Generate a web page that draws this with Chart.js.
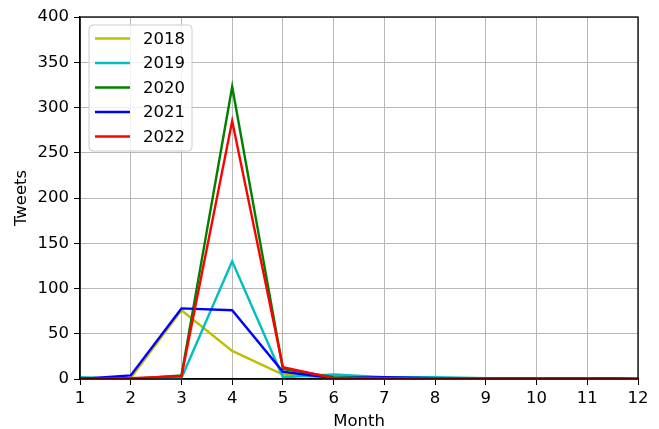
<!DOCTYPE html>
<html><head><meta charset="utf-8">
<script src="https://cdn.jsdelivr.net/npm/chart.js@4/dist/chart.umd.min.js"></script>
<style>html,body{margin:0;padding:0;background:#fff}#wrap{width:659px;height:429px}</style>
</head><body><div id="wrap"><canvas id="c" width="659" height="429"></canvas></div>
<script>
const months = [1,2,3,4,5,6,7,8,9,10,11,12];
const years = ["2018","2019","2020","2021","2022"];
const tweets2018 = [1,1,76,31,5,1,1,1,1,1,1,0];
const tweets2019 = [2,0,1,130,2,5,2,2,1,1,1,0];
const tweets2020 = [1,0,4,323,11,2,1,1,1,1,1,0];
const tweets2021 = [0,4,78,76,8,1,2,1,1,1,1,0];
const tweets2022 = [0,1,3,285,13,1,1,1,1,1,1,0];
const yTicks = [0,50,100,150,200,250,300,350,400];
const colors = ["#bfbf00","#00bfbf","#008000","#0000ff","#ff0000"];
const series = [tweets2018,tweets2019,tweets2020,tweets2021,tweets2022];

const FONT = "'DejaVu Sans', sans-serif";
const FS = 16.5;
const datasets = series.map((vals,i)=>({
  label: years[i],
  data: months.map((m,j)=>({x:m,y:vals[j]})),
  borderColor: colors[i], backgroundColor: colors[i],
  borderWidth: 2.4, pointRadius: 0, tension: 0, fill:false,
  order: series.length-1-i
}));

const frame = {
  id:'frame',
  afterDraw(chart){
    const {ctx, chartArea:a} = chart;
    ctx.save();
    ctx.strokeStyle = '#000'; ctx.lineWidth = 1.3;
    ctx.strokeRect(a.left, a.top, a.right-a.left, a.bottom-a.top);
    // legend
    const x0 = a.left+9, y0 = a.top+8, w = 103, h = 126, r = 4;
    ctx.fillStyle = 'rgba(255,255,255,0.8)';
    ctx.strokeStyle = '#cccccc'; ctx.lineWidth = 1;
    ctx.beginPath();
    ctx.moveTo(x0+r,y0); ctx.lineTo(x0+w-r,y0); ctx.quadraticCurveTo(x0+w,y0,x0+w,y0+r);
    ctx.lineTo(x0+w,y0+h-r); ctx.quadraticCurveTo(x0+w,y0+h,x0+w-r,y0+h);
    ctx.lineTo(x0+r,y0+h); ctx.quadraticCurveTo(x0,y0+h,x0,y0+h-r);
    ctx.lineTo(x0,y0+r); ctx.quadraticCurveTo(x0,y0,x0+r,y0); ctx.closePath();
    ctx.fill(); ctx.stroke();
    ctx.font = FS + 'px ' + FONT; ctx.textBaseline = 'middle'; ctx.textAlign='left';
    years.forEach((yr,i)=>{
      const yy = y0 + 13.5 + i*24.5;
      ctx.strokeStyle = colors[i]; ctx.lineWidth = 2.4;
      ctx.beginPath(); ctx.moveTo(x0+6,yy); ctx.lineTo(x0+41,yy); ctx.stroke();
      ctx.fillStyle = '#000'; ctx.fillText(yr, x0+54, yy+1);
    });
    ctx.restore();
  }
};

new Chart(document.getElementById('c'), {
  type:'line',
  data:{datasets},
  options:{
    responsive:false, animation:false,
    layout:{padding:{top:17,right:21,left:0,bottom:0}},
    plugins:{legend:{display:false}, tooltip:{enabled:false}},
    scales:{
      x:{type:'linear', min:1, max:12,
        afterBuildTicks(s){ s.ticks = months.map(v=>({value:v})); },
        afterFit(s){ s.height = 50; },
        grid:{color:'#b8b8b8', lineWidth:1, tickColor:'#000', tickLength:6, drawTicks:true},
        border:{color:'#000', width:1.3},
        ticks:{color:'#000', font:{family:FONT,size:FS}, padding:4, maxRotation:0, autoSkip:false},
        title:{display:true, text:'Month', color:'#000', font:{family:FONT,size:FS}, padding:{top:0,bottom:-3}}
      },
      y:{min:0, max:400,
        afterBuildTicks(s){ s.ticks = yTicks.map(v=>({value:v})); },
        afterFit(s){ s.width = 80; },
        grid:{color:'#b8b8b8', lineWidth:1, tickColor:'#000', tickLength:6, drawTicks:true},
        border:{color:'#000', width:1.3},
        ticks:{color:'#000', font:{family:FONT,size:FS}, padding:5},
        title:{display:true, text:'Tweets', color:'#000', font:{family:FONT,size:FS}, padding:{top:12,bottom:0}}
      }
    }
  },
  plugins:[frame]
});
</script></body></html>
